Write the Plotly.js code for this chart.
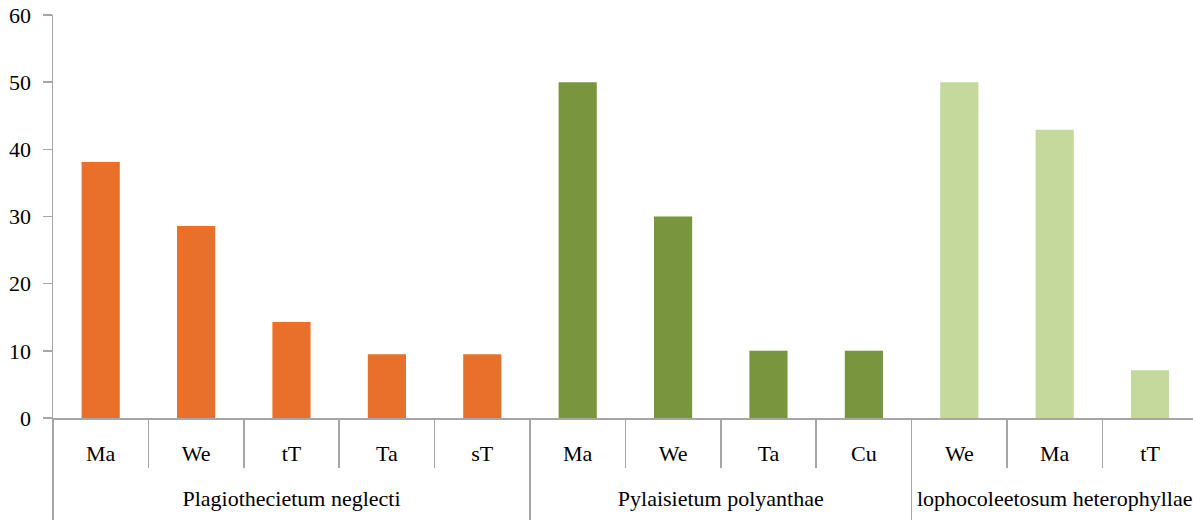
<!DOCTYPE html>
<html>
<head>
<meta charset="utf-8">
<script src="https://cdn.plot.ly/plotly-3.0.1.min.js"></script>
<style>html,body{margin:0;padding:0;background:#fff;}#chart{width:1193px;height:520px;}</style>
</head>
<body>
<div id="chart"></div>
<script>
const groups = ["Plagiothecietum neglecti", "Pylaisietum polyanthae", "lophocoleetosum heterophyllae"];
const group1Cats = ["Ma", "We", "tT", "Ta", "sT"];
const group1Vals = [38.1, 28.6, 14.3, 9.5, 9.5];
const group2Cats = ["Ma", "We", "Ta", "Cu"];
const group2Vals = [50, 30, 10, 10];
const group3Cats = ["We", "Ma", "tT"];
const group3Vals = [50, 42.9, 7.1];
const colors = ["#E8702A", "#79953D", "#C4D99B"];
const yTicks = [0, 10, 20, 30, 40, 50, 60];

const catSets = [group1Cats, group2Cats, group3Cats];
const valSets = [group1Vals, group2Vals, group3Vals];
const pos = [], inner = [], vals = [], cols = [];
const innerBounds = [], groupCenters = [], groupBounds = [];
let idx = 0;
catSets.forEach((cats, gi) => {
  groupBounds.push(idx - 0.5);
  groupCenters.push(idx + (cats.length - 1) / 2);
  cats.forEach((c, i) => {
    pos.push(idx);
    inner.push(c);
    vals.push(valSets[gi][i]);
    cols.push(colors[gi]);
    innerBounds.push(idx - 0.5);
    idx++;
  });
});
innerBounds.push(idx - 0.5);

const FONT = "Liberation Serif, Times New Roman, serif";
const AX = "#a6a6a6";
const xr = [-0.5, 11.45];

const trace = {
  type: "bar",
  x: pos,
  y: vals,
  marker: {color: cols, line: {width: 0}},
  hoverinfo: "y"
};
const groupTrace = {
  type: "scatter",
  mode: "markers",
  x: groupCenters,
  y: [0, 0, 0],
  xaxis: "x2",
  marker: {opacity: 0},
  hoverinfo: "skip"
};

const layout = {
  width: 1193,
  height: 520,
  margin: {l: 53, r: 0, t: 15, b: 102},
  paper_bgcolor: "#fff",
  plot_bgcolor: "#fff",
  showlegend: false,
  bargap: 0.6,
  font: {family: FONT, size: 22, color: "#000"},
  xaxis: {
    range: xr,
    tickmode: "array",
    tickvals: pos,
    ticktext: inner,
    ticks: "",
    ticklabelstandoff: 15,
    minor: {tickmode: "array", tickvals: innerBounds, ticks: "outside", ticklen: 48, tickcolor: AX, tickwidth: 1.5, showgrid: false},
    showline: true,
    linecolor: AX,
    linewidth: 1.5,
    showgrid: false,
    zeroline: false,
    tickfont: {family: FONT, size: 22, color: "#000"}
  },
  xaxis2: {
    overlaying: "x",
    anchor: "y",
    side: "bottom",
    range: xr,
    tickmode: "array",
    tickvals: groupCenters,
    ticktext: groups,
    ticks: "",
    ticklabelstandoff: 65,
    minor: {tickmode: "array", tickvals: groupBounds, ticks: "outside", ticklen: 110, tickcolor: AX, tickwidth: 1.5, showgrid: false},
    showline: false,
    showgrid: false,
    zeroline: false,
    tickfont: {family: FONT, size: 22, color: "#000"}
  },
  yaxis: {
    range: [0, 60],
    tickvals: yTicks,
    showline: true,
    linecolor: AX,
    linewidth: 1.5,
    ticks: "outside",
    ticklen: 9,
    tickcolor: AX,
    tickwidth: 1.5,
    ticklabelstandoff: 7,
    showgrid: false,
    zeroline: false,
    tickfont: {family: FONT, size: 22, color: "#000"}
  }
};

Plotly.newPlot("chart", [trace, groupTrace], layout, {displayModeBar: false, staticPlot: true});
</script>
</body>
</html>
